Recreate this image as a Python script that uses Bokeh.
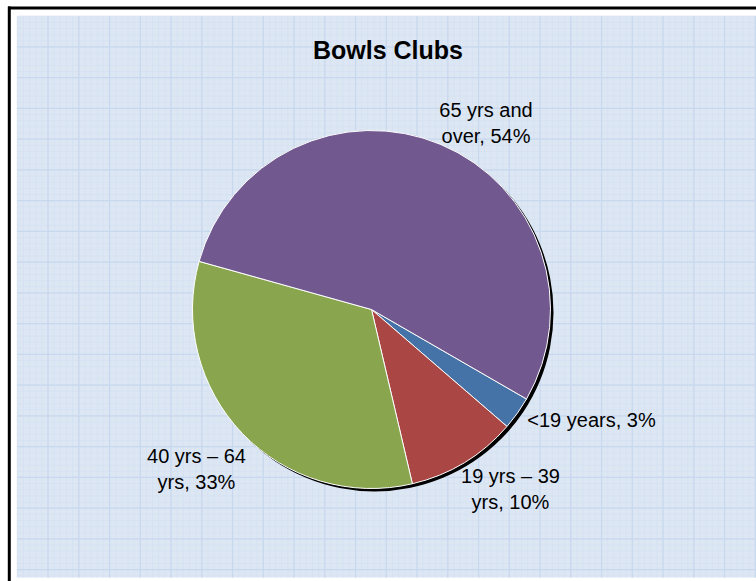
import numpy as np
from bokeh.plotting import figure
from bokeh.models import Range1d
from bokeh.core.properties import value
from bokeh.embed import file_html
from bokeh.resources import INLINE

# ---- data ----
title = "Bowls Clubs"
categories = ["<19 years", "19 yrs – 39\nyrs", "40 yrs – 64\nyrs", "65 yrs and\nover"]
percents = [3, 10, 33, 54]
colors = ["#4572A7", "#AA4643", "#89A54E", "#71588F"]
first_slice_angle = 120  # degrees, clockwise from 12 o'clock

W, H = 756, 581
p = figure(width=W, height=H, output_backend="svg", toolbar_location=None,
           x_range=Range1d(0, W), y_range=Range1d(0, H),
           x_axis_type=None, y_axis_type=None, min_border=0)
p.outline_line_color = None
p.grid.visible = False
p.background_fill_color = "white"
p.border_fill_color = "white"

def Y(y):
    return H - y

# ---- chart area fill with graph-paper pattern ----
fx0, fy0, fx1, fy1 = 16.8, 15.7, 760, 577
p.quad(left=fx0, right=fx1, top=Y(fy0), bottom=Y(fy1), fill_color="#dde7f4", line_color=None)
step = 30.75
minor = np.arange(fx0, fx1, step / 5)
p.segment(x0=minor, y0=Y(fy0), x1=minor, y1=Y(fy1), line_color="#d6e2f2", line_width=1)
minor_y = np.arange(fy0, fy1, step / 5)
p.segment(x0=fx0, y0=Y(minor_y), x1=fx1, y1=Y(minor_y), line_color="#d6e2f2", line_width=1)
major = np.arange(fx0 + step, fx1, step)
p.segment(x0=major, y0=Y(fy0), x1=major, y1=Y(fy1), line_color="#c8d8ee", line_width=1.2)
major_y = np.arange(fy0 + step, fy1, step)
p.segment(x0=fx0, y0=Y(major_y), x1=fx1, y1=Y(major_y), line_color="#c8d8ee", line_width=1.2)

# ---- outer border (cropped on right/bottom) ----
p.segment(x0=[7.5, 8.8], y0=[Y(7.5), Y(6)], x1=[W + 5, 8.8], y1=[Y(7.5), Y(H + 5)],
          line_color="black", line_width=3)

# ---- pie ----
cx, cy, r = 371, Y(309), 179
p.circle(x=[cx + 3], y=[cy - 3], radius=r, fill_color="black", line_color=None)

fr = np.array(percents, dtype=float) / sum(percents)
cum = np.concatenate([[0], np.cumsum(fr)])
a0 = np.deg2rad(90 - first_slice_angle)
starts = a0 - cum[:-1] * 2 * np.pi
ends = a0 - cum[1:] * 2 * np.pi
p.wedge(x=cx, y=cy, radius=r, start_angle=starts, end_angle=ends, direction="clock",
        fill_color=colors, line_color="white", line_width=1)

# ---- title ----
p.text(x=[387.5], y=[Y(58.3 - 9)], text=[title], text_font=value("Liberation Sans"),
       text_font_style="bold", text_font_size=value("25px"), text_align="center",
       text_baseline="alphabetic", text_color="black")

# ---- data labels ----
label_pos = [(591, 427.3), (510, 483.3), (196, 463.3), (485.5, 117.3)]
lh = 26
xs, ys, ts = [], [], []
for cat, pct, (lx, ly) in zip(categories, percents, label_pos):
    lines = f"{cat}, {pct}%".split("\n")
    for i, t in enumerate(lines):
        xs.append(lx)
        ys.append(Y(ly - 7.5 + i * lh))
        ts.append(t)
p.text(x=xs, y=ys, text=ts, text_font=value("Liberation Sans"),
       text_font_size=value("20px"), text_align="center",
       text_baseline="alphabetic", text_color="black")

open("out.html", "w").write(file_html(p, INLINE))
